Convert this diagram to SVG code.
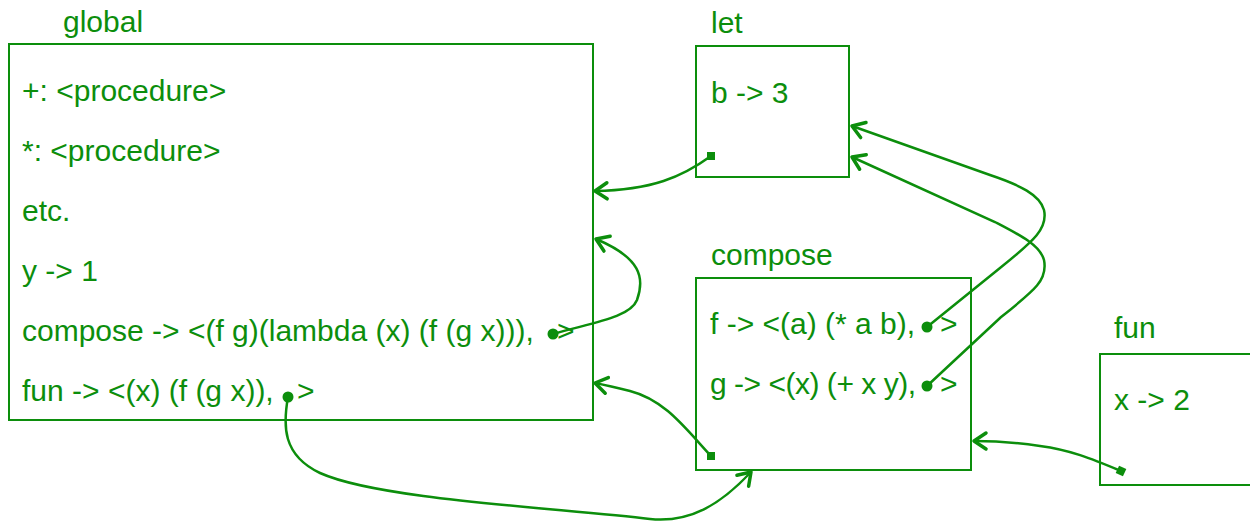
<svg xmlns="http://www.w3.org/2000/svg" width="1250" height="522" viewBox="0 0 1250 522">
<style>
.box{fill:none;stroke:#0c8e0c;stroke-width:2}
.t{font-family:"Liberation Sans",Arial,sans-serif;font-size:30px;fill:#0c8e0c}
.c{fill:none;stroke:#0c8e0c;stroke-width:2.5;marker-end:url(#arr)}
.dot{fill:#0c8e0c}
</style>
<defs>
<marker id="arr" markerUnits="userSpaceOnUse" markerWidth="30" markerHeight="30" refX="0" refY="0" viewBox="-16 -15 30 30" orient="auto" overflow="visible">
<path d="M-12,-8 L0,0 L-12,8" fill="none" stroke="#0c8e0c" stroke-width="3.5" stroke-linecap="round" stroke-linejoin="round"/>
</marker>
</defs>
<rect width="1250" height="522" fill="#fff"/>
<g id="global">
<text class="t" x="63" y="32">global</text>
<rect class="box" x="9" y="44" width="584" height="376"/>
<text class="t" x="22" y="101">+: &lt;procedure&gt;</text>
<text class="t" x="22" y="161">*: &lt;procedure&gt;</text>
<text class="t" x="22" y="221">etc.</text>
<text class="t" x="22" y="281">y -&gt; 1</text>
<text class="t" x="22" y="341">compose -&gt; &lt;(f g)(lambda (x) (f (g x))),</text>
<text class="t" x="557" y="341">&gt;</text>
<text class="t" x="22" y="401">fun -&gt; &lt;(x) (f (g x)),</text>
<text class="t" x="297" y="401">&gt;</text>
</g>
<g id="let">
<text class="t" x="711" y="33">let</text>
<rect class="box" x="696" y="46" width="153" height="131"/>
<text class="t" x="711" y="103">b -&gt; 3</text>
</g>
<g id="compose">
<text class="t" x="711" y="265">compose</text>
<rect class="box" x="696" y="278" width="275" height="192"/>
<text class="t" x="710" y="334">f -&gt; &lt;(a) (* a b),</text>
<text class="t" x="940" y="334">&gt;</text>
<text class="t" x="710" y="394" textLength="206">g -&gt; &lt;(x) (+ x y),</text>
<text class="t" x="940" y="394">&gt;</text>
</g>
<g id="fun">
<text class="t" x="1114" y="338">fun</text>
<rect class="box" x="1100" y="354" width="160" height="131"/>
<text class="t" x="1114" y="410">x -&gt; 2</text>
</g>
<g id="connectors">
<path class="c" d="M711,156 C682,177 652,190 595,191"/>
<path class="c" d="M553,334 C590,323 630,318 637,300 C645,278 641,258 596,239"/>
<path class="c" d="M927,327 L1000,268 C1035,240 1048,228 1044,210 C1040,195 1020,185 990,175 L852,126"/>
<path class="c" d="M927,386 L1000,318 C1035,290 1048,280 1044,260 C1040,245 1020,235 995,222 L852,157"/>
<path class="c" d="M711,456 C685,428 665,400 630,391 Q610,386 595,383"/>
<path class="c" d="M288,397 C283,425 282,455 320,473 C380,500 560,508 650,519 C690,523 720,505 751,472"/>
<path class="c" d="M1121,471 C1090,458 1070,450 1040,446 C1020,443 1000,441 974,441"/>
<circle class="dot" cx="553" cy="334" r="5.5"/>
<circle class="dot" cx="288" cy="397" r="5.5"/>
<circle class="dot" cx="927" cy="327" r="5.5"/>
<circle class="dot" cx="927" cy="386" r="5.5"/>
<rect class="dot" x="707" y="152" width="8" height="8"/>
<rect class="dot" x="707" y="452" width="8" height="8"/>
<rect class="dot" x="1117" y="467" width="8" height="8" transform="rotate(25 1121 471)"/>
</g>
</svg>
